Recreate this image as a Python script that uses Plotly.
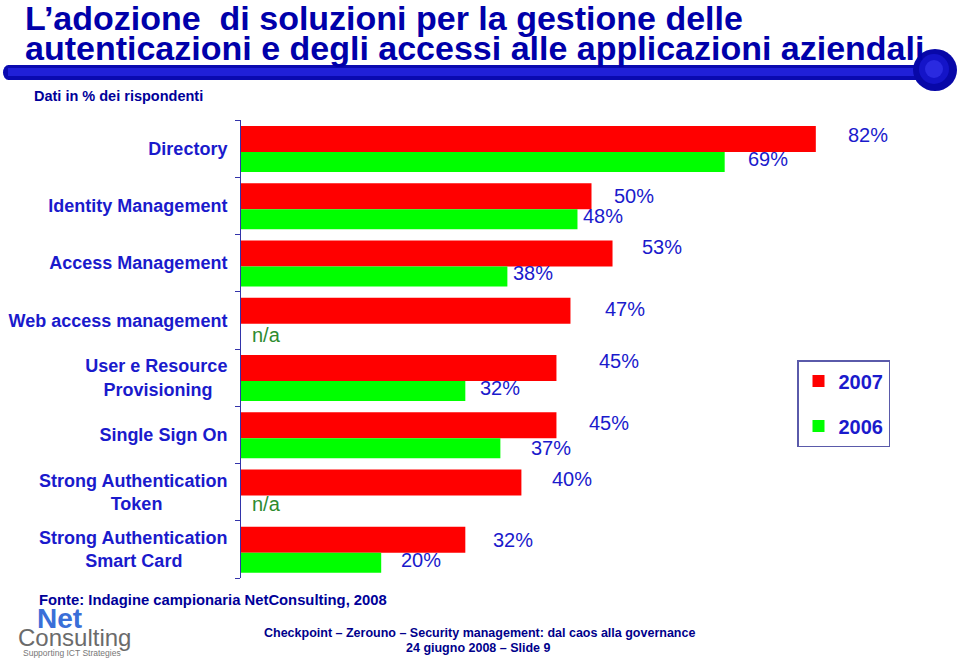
import plotly.graph_objects as go

# ---------------- data ----------------
categories = [
    "Directory",
    "Identity Management",
    "Access Management",
    "Web access management",
    "User e Resource Provisioning",
    "Single Sign On",
    "Strong Authentication Token",
    "Strong Authentication Smart Card",
]
tick_labels = [
    "Directory",
    "Identity Management",
    "Access Management",
    "Web access management",
    "User e Resource<br>Provisioning\u00a0\u00a0\u00a0",
    "Single Sign On",
    "Strong Authentication<br>Token" + "\u00a0" * 13,
    "Strong Authentication<br>Smart Card" + "\u00a0" * 9,
]
series_names = ["2007", "2006"]
values_2007 = [82, 50, 53, 47, 45, 45, 40, 32]
values_2006 = [69, 48, 38, None, 32, 37, None, 20]
labels_2007 = [f"{v}%" for v in values_2007]
labels_2006 = ["n/a" if v is None else f"{v}%" for v in values_2006]

# ---------------- styling / placement ----------------
BLUE_TXT = "#1a1acc"
FONT = "Liberation Sans, Arial, sans-serif"
L, R, T, B = 241, 17, 120, 82
W, H = 959, 660
PW, PH = W - L - R, H - T - B

# label pixel shifts (dx from bar end, dy from category centre, + = down)
dx_2007 = [30, 20, 27, 33, 41, 31, 29, 26]
dy_2007 = [-14, -10, -16, -11, -17, -12, -13, -9]
dx_2006 = [21, 4, 4, 9, 13, 29, 9, 18]
dy_2006 = [10, 10, 10, 15, 10, 13, 12, 11]


def px_x(x):
    return (x - L) / PW


def px_y(y):
    return (H - B - y) / PH


fig = go.Figure()
fig.add_trace(go.Bar(
    y=categories, x=values_2007, orientation="h", name=series_names[0],
    marker=dict(color="#ff0000", line=dict(width=0)),
    width=0.455, offset=-0.395, legendgroup="a", hoverinfo="skip",
))
fig.add_trace(go.Bar(
    y=categories, x=values_2006, orientation="h", name=series_names[1],
    marker=dict(color="#00ff00", line=dict(width=0)),
    width=0.35, offset=0.06, legendgroup="b", hoverinfo="skip",
))

annotations = []
for i, cat in enumerate(categories):
    annotations.append(dict(
        x=values_2007[i], y=cat, xref="x", yref="y", text=labels_2007[i],
        showarrow=False, xanchor="left", yanchor="middle",
        xshift=dx_2007[i], yshift=-dy_2007[i],
        font=dict(family=FONT, size=20, color=BLUE_TXT),
    ))
    v6 = values_2006[i]
    annotations.append(dict(
        x=0 if v6 is None else v6, y=cat, xref="x", yref="y", text=labels_2006[i],
        showarrow=False, xanchor="left", yanchor="middle",
        xshift=dx_2006[i], yshift=-dy_2006[i],
        font=dict(family=FONT, size=20,
                  color="#2e8b2e" if v6 is None else BLUE_TXT),
    ))

# title and texts
annotations += [
    dict(x=px_x(24), y=px_y(18), xref="paper", yref="paper", showarrow=False,
         xanchor="left", yanchor="middle", borderpad=0,
         text="<b>L’adozione  di soluzioni per la gestione delle</b>",
         font=dict(family=FONT, size=34, color="#0000aa")),
    dict(x=px_x(24), y=px_y(48), xref="paper", yref="paper", showarrow=False,
         xanchor="left", yanchor="middle", borderpad=0,
         text="<b>autenticazioni e degli accessi alle applicazioni aziendali</b>",
         font=dict(family=FONT, size=34, color="#0000aa")),
    dict(x=px_x(32), y=px_y(96), xref="paper", yref="paper", showarrow=False,
         xanchor="left", yanchor="middle",
         text="<b>Dati in % dei rispondenti</b>",
         font=dict(family=FONT, size=14.5, color="#000099")),
    dict(x=px_x(37), y=px_y(600), xref="paper", yref="paper", showarrow=False,
         xanchor="left", yanchor="middle",
         text="<b>Fonte: Indagine campionaria NetConsulting, 2008</b>",
         font=dict(family=FONT, size=14.8, color="#000099")),
    dict(x=px_x(479), y=px_y(633), xref="paper", yref="paper", showarrow=False,
         xanchor="center", yanchor="middle",
         text="<b>Checkpoint – Zerouno – Security management: dal caos alla governance</b>",
         font=dict(family=FONT, size=12.5, color="#00008b")),
    dict(x=px_x(478), y=px_y(648), xref="paper", yref="paper", showarrow=False,
         xanchor="center", yanchor="middle",
         text="<b>24 giugno 2008 – Slide 9</b>",
         font=dict(family=FONT, size=12.5, color="#00008b")),
    # logo
    dict(x=px_x(59), y=px_y(618), xref="paper", yref="paper", showarrow=False,
         xanchor="center", yanchor="middle", text="<b>Net</b>",
         font=dict(family=FONT, size=28, color="#3a6fd8")),
    dict(x=px_x(74), y=px_y(637), xref="paper", yref="paper", showarrow=False,
         xanchor="center", yanchor="middle", text="Consulting",
         font=dict(family=FONT, size=24, color="#6b6b6b")),
    dict(x=px_x(72), y=px_y(653), xref="paper", yref="paper", showarrow=False,
         xanchor="center", yanchor="middle", text="Supporting ICT Strategies",
         font=dict(family="Liberation Sans Narrow, " + FONT, size=8.5, color="#777777")),
]

shapes = [
    # title rule
    dict(type="circle", xref="paper", yref="paper", x0=px_x(3), x1=px_x(14),
         y0=px_y(80), y1=px_y(65), fillcolor="#0a0ab0", line=dict(width=0)),
    dict(type="rect", xref="paper", yref="paper", x0=px_x(8), x1=px_x(930),
         y0=px_y(80), y1=px_y(65), fillcolor="#0a0ab0", line=dict(width=0)),
    dict(type="rect", xref="paper", yref="paper", x0=px_x(8), x1=px_x(930),
         y0=px_y(76), y1=px_y(68), fillcolor="#2020d8", line=dict(width=0)),
    dict(type="circle", xref="paper", yref="paper", x0=px_x(913), x1=px_x(957),
         y0=px_y(91), y1=px_y(49), fillcolor="#0808a8", line=dict(width=0)),
    dict(type="circle", xref="paper", yref="paper", x0=px_x(919), x1=px_x(949),
         y0=px_y(84), y1=px_y(54), fillcolor="#1414c8", line=dict(width=0)),
    dict(type="circle", xref="paper", yref="paper", x0=px_x(925), x1=px_x(943),
         y0=px_y(78), y1=px_y(60), fillcolor="#2a2ae0", line=dict(width=0)),
]

fig.update_layout(
    width=W, height=H,
    margin=dict(l=L, r=R, t=T, b=B, autoexpand=False),
    paper_bgcolor="white", plot_bgcolor="white",
    barmode="overlay",
    showlegend=True,
    legend=dict(
        x=px_x(797), y=px_y(360), xanchor="left", yanchor="top",
        bordercolor="#5a5aaa", borderwidth=1.5, bgcolor="white",
        font=dict(family=FONT, size=20, color=BLUE_TXT, weight="bold"),
        tracegroupgap=16, traceorder="grouped",
    ),
    xaxis=dict(range=[0, 100], visible=False, fixedrange=True),
    yaxis=dict(
        type="category", autorange="reversed",
        tickmode="array", tickvals=categories, ticktext=tick_labels,
        tickson="boundaries", ticks="outside", ticklen=5, tickcolor="#3333aa",
        showline=True, linecolor="#3333aa", linewidth=1, showgrid=False,
        ticklabelstandoff=9,
        tickfont=dict(family=FONT, size=18, color=BLUE_TXT, weight="bold"),
    ),
    annotations=annotations,
    shapes=shapes,
)

fig.write_html(
    "out.html",
    config={"displayModeBar": False},
    post_script="document.body.style.margin='0';document.body.style.overflow='hidden';",
)
